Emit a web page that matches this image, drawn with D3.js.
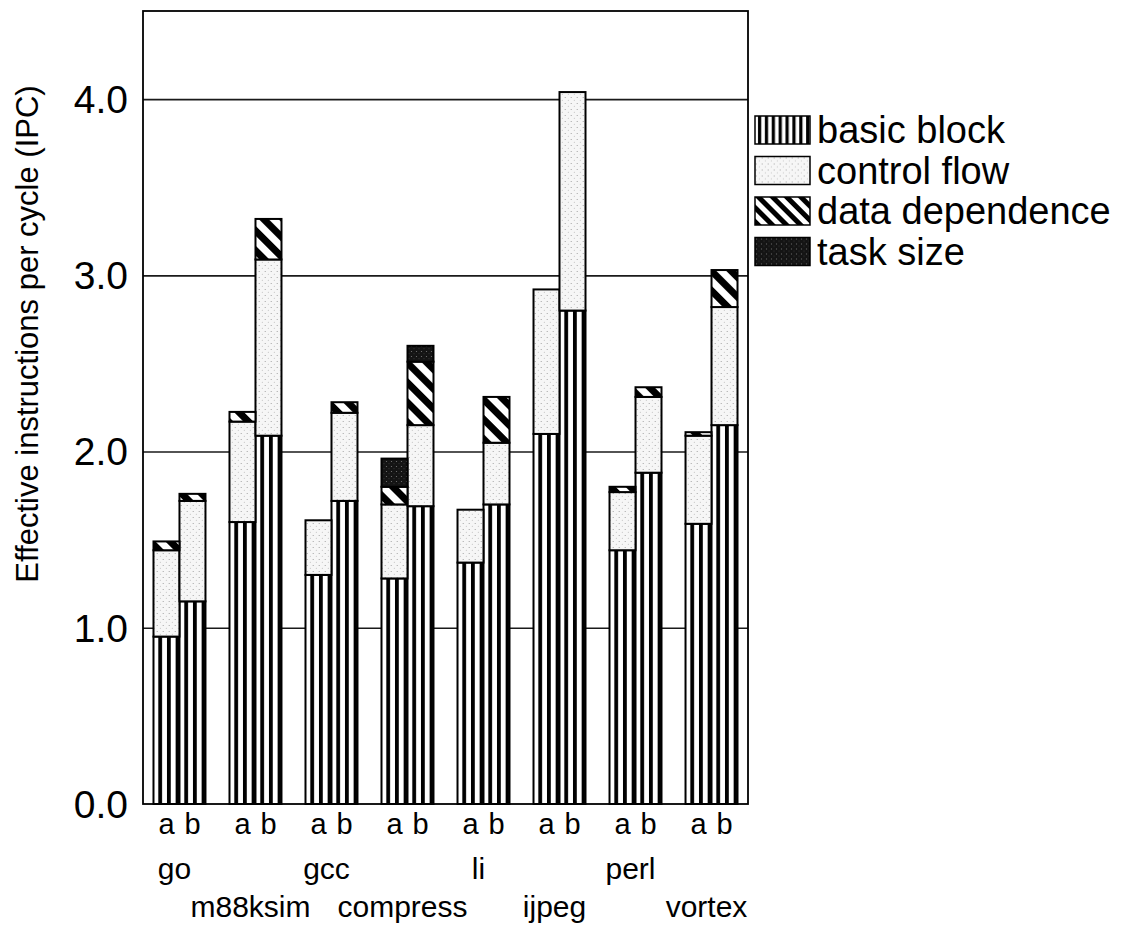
<!DOCTYPE html>
<html>
<head>
<meta charset="utf-8">
<script src="https://cdn.jsdelivr.net/npm/d3@7"></script>
<style>
  body { margin: 0; background: #fff; }
  svg { display: block; font-family: "Liberation Sans", Arial, Helvetica, sans-serif; }
</style>
</head>
<body>
<script>
// benchmarks, two configurations (a, b) each
var benchmarks = ["go", "m88ksim", "gcc", "compress", "li", "ijpeg", "perl", "vortex"];
var configs = ["a", "b"];

// IPC per segment, ordered go a, go b, m88ksim a, m88ksim b, ...
var basicBlock     = [0.95, 1.15, 1.60, 2.09, 1.30, 1.72, 1.28, 1.69, 1.37, 1.70, 2.10, 2.80, 1.44, 1.88, 1.59, 2.15];
var controlFlow    = [0.49, 0.57, 0.57, 1.00, 0.31, 0.50, 0.42, 0.46, 0.30, 0.35, 0.82, 1.24, 0.33, 0.43, 0.50, 0.67];
var dataDependence = [0.05, 0.04, 0.055, 0.23, 0.00, 0.06, 0.10, 0.36, 0.00, 0.26, 0.00, 0.00, 0.03, 0.055, 0.02, 0.21];
var taskSize       = [0.00, 0.00, 0.00, 0.00, 0.00, 0.00, 0.16, 0.09, 0.00, 0.00, 0.00, 0.00, 0.00, 0.00, 0.00, 0.00];

var seriesKeys = ["basic", "control", "data", "task"];
var seriesNames = ["basic block", "control flow", "data dependence", "task size"];
var yTicks = [0, 1, 2, 3, 4];

// layout
var W = 1139, H = 927;
var plot = { left: 143, right: 748, top: 11, bottom: 804 };

var svg = d3.select("body").append("svg")
    .attr("width", W)
    .attr("height", H);

// fill patterns
var defs = svg.append("defs");

// vertical stripes, three per bar
var pBasic = defs.append("pattern")
    .attr("id", "pBasic")
    .attr("patternUnits", "objectBoundingBox")
    .attr("width", 1 / 3).attr("height", 1);
pBasic.append("rect").attr("width", 100).attr("height", 2000).attr("fill", "#fff");
pBasic.append("rect").attr("x", 4.8).attr("width", 3.8).attr("height", 2000).attr("fill", "#000");

// legend version has thinner stripes
var pBasicL = defs.append("pattern")
    .attr("id", "pBasicL")
    .attr("patternUnits", "objectBoundingBox")
    .attr("width", 1 / 8).attr("height", 1);
pBasicL.append("rect").attr("width", 100).attr("height", 200).attr("fill", "#fff");
pBasicL.append("rect").attr("x", 3).attr("width", 3.2).attr("height", 200).attr("fill", "#000");

// light stipple
var pControl = defs.append("pattern")
    .attr("id", "pControl")
    .attr("patternUnits", "userSpaceOnUse")
    .attr("width", 6).attr("height", 6);
pControl.append("rect").attr("width", 6).attr("height", 6).attr("fill", "#f6f6f6");
pControl.append("circle").attr("cx", 1.2).attr("cy", 1.5).attr("r", 0.6).attr("fill", "#9a9a9a");
pControl.append("circle").attr("cx", 4.3).attr("cy", 4.2).attr("r", 0.5).attr("fill", "#b5b5b5");

// diagonal stripes "\" - wide in the bars, a bit finer in the legend
function diagPattern(id, size) {
    var p = defs.append("pattern")
        .attr("id", id)
        .attr("patternUnits", "userSpaceOnUse")
        .attr("width", size).attr("height", size)
        .attr("patternTransform", "rotate(-45)");
    p.append("rect").attr("width", size).attr("height", size).attr("fill", "#fff");
    p.append("rect").attr("width", size / 2).attr("height", size).attr("fill", "#000");
}
diagPattern("pData", 14);
diagPattern("pDataL", 10);

// dark speckle
var pTask = defs.append("pattern")
    .attr("id", "pTask")
    .attr("patternUnits", "userSpaceOnUse")
    .attr("width", 5).attr("height", 5);
pTask.append("rect").attr("width", 5).attr("height", 5).attr("fill", "#141414");
pTask.append("circle").attr("cx", 1.5).attr("cy", 1.5).attr("r", 0.6).attr("fill", "#777");
pTask.append("circle").attr("cx", 4).attr("cy", 3.8).attr("r", 0.45).attr("fill", "#555");

var fills = { basic: "url(#pBasic)", control: "url(#pControl)", data: "url(#pData)", task: "url(#pTask)" };
var legendFills = ["url(#pBasicL)", "url(#pControl)", "url(#pDataL)", "url(#pTask)"];

// scales
var x0 = d3.scaleBand()
    .domain(benchmarks)
    .range([plot.left, plot.right])
    .paddingInner(0.316)
    .paddingOuter(0.138);

var x1 = d3.scaleBand()
    .domain(configs)
    .range([0, x0.bandwidth()]);

var y = d3.scaleLinear()
    .domain([0, 4.5])
    .range([plot.bottom, plot.top]);

// build rows for stacking
var rows = [];
benchmarks.forEach(function (b, i) {
    configs.forEach(function (c, j) {
        var k = i * 2 + j;
        rows.push({
            bench: b, cfg: c,
            basic: basicBlock[k], control: controlFlow[k],
            data: dataDependence[k], task: taskSize[k]
        });
    });
});

var stacked = d3.stack().keys(seriesKeys)(rows);

// plot background
svg.append("rect")
    .attr("x", plot.left).attr("y", plot.top)
    .attr("width", plot.right - plot.left)
    .attr("height", plot.bottom - plot.top)
    .attr("fill", "#fff");

// gridlines
svg.append("g")
    .attr("transform", "translate(" + plot.left + ",0)")
    .call(d3.axisLeft(y).tickValues(yTicks.slice(1)).tickSize(-(plot.right - plot.left)).tickFormat(""))
    .call(function (g) { g.select(".domain").remove(); })
    .selectAll("line")
    .attr("stroke", "#1a1a1a")
    .attr("stroke-width", 1.6);

// bars
var layers = svg.append("g").attr("class", "bars")
    .selectAll("g")
    .data(stacked)
    .enter()
    .append("g")
    .attr("fill", function (d) { return fills[d.key]; });

layers.selectAll("rect")
    .data(function (d) { return d.filter(function (s) { return s[1] - s[0] > 0; }); })
    .enter()
    .append("rect")
    .attr("x", function (d) { return x0(d.data.bench) + x1(d.data.cfg); })
    .attr("y", function (d) { return y(d[1]); })
    .attr("width", x1.bandwidth())
    .attr("height", function (d) { return y(d[0]) - y(d[1]); })
    .attr("stroke", "#000")
    .attr("stroke-width", 2);

// frame
svg.append("rect")
    .attr("x", plot.left).attr("y", plot.top)
    .attr("width", plot.right - plot.left)
    .attr("height", plot.bottom - plot.top)
    .attr("fill", "none")
    .attr("stroke", "#000")
    .attr("stroke-width", 1.8);

// y axis labels
svg.append("g")
    .attr("transform", "translate(" + plot.left + ",0)")
    .call(d3.axisLeft(y).tickValues(yTicks).tickFormat(d3.format(".1f")).tickSize(0).tickPadding(15))
    .call(function (g) { g.select(".domain").remove(); })
    .selectAll("text")
    .attr("font-size", "39px")
    .attr("font-family", "Liberation Sans, Arial, sans-serif")
    .attr("fill", "#000")
    .attr("dy", "0.34em");

// y axis title
svg.append("text")
    .attr("transform", "translate(38,334) rotate(-90)")
    .attr("text-anchor", "middle")
    .attr("font-size", "31px")
    .attr("fill", "#000")
    .text("Effective instructions per cycle (IPC)");

// a / b labels under each group
benchmarks.forEach(function (b) {
    svg.append("g")
        .attr("transform", "translate(" + x0(b) + "," + plot.bottom + ")")
        .call(d3.axisBottom(x1).tickSize(0).tickPadding(9))
        .call(function (g) { g.select(".domain").remove(); })
        .selectAll("text")
        .attr("font-size", "29px")
        .attr("font-family", "Liberation Sans, Arial, sans-serif")
        .attr("fill", "#000");
});

// benchmark names, staggered over two rows
svg.append("g").selectAll("text")
    .data(benchmarks)
    .enter()
    .append("text")
    .attr("x", function (d) { return x0(d) + x0.bandwidth() / 2 - 5; })
    .attr("y", function (d, i) { return i % 2 === 0 ? 879 : 917; })
    .attr("text-anchor", "middle")
    .attr("font-size", "30px")
    .attr("fill", "#000")
    .text(function (d) { return d; });

// legend
var legend = svg.append("g").attr("class", "legend")
    .selectAll("g")
    .data(seriesNames)
    .enter()
    .append("g")
    .attr("transform", function (d, i) { return "translate(755," + (116 + i * 40.5) + ")"; });

legend.append("rect")
    .attr("width", 55)
    .attr("height", 28)
    .attr("fill", function (d, i) { return legendFills[i]; })
    .attr("stroke", "#000")
    .attr("stroke-width", 1.5);

legend.append("text")
    .attr("x", 62)
    .attr("y", 27)
    .attr("font-size", "38px")
    .attr("fill", "#000")
    .text(function (d) { return d; });
</script>
</body>
</html>
